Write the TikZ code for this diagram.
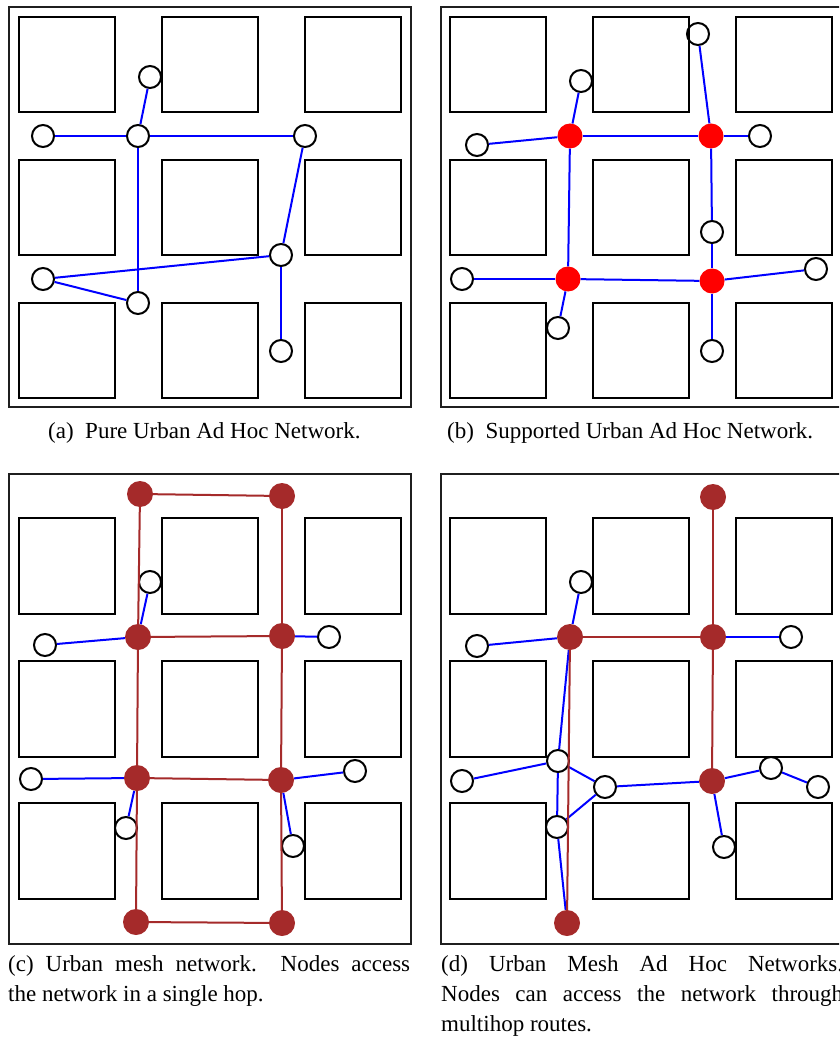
\documentclass[tikz,border=0pt]{standalone}
\usepackage{fontspec}
\setmainfont{Liberation Serif}
\definecolor{brownc}{RGB}{165,42,42}
\tikzset{
  frm/.style={draw=black!88, line width=2.5pt},
  blk/.style={draw=black, line width=2.5pt},
  wn/.style={circle, draw=black, line width=2pt, minimum size=22pt, inner sep=0pt},
  rn/.style={circle, fill=red, minimum size=25pt, inner sep=0pt},
  bn/.style={circle, fill=brownc, minimum size=26pt, inner sep=0pt},
  bl/.style={draw=blue, line width=2pt},
  br/.style={draw=brownc, line width=2pt},
  captext/.style={inner sep=0pt, anchor=base west, font=\fontsize{23}{30}\selectfont}
}
\begin{document}
\begin{tikzpicture}[x=1pt,y=-1pt]
\useasboundingbox (0,0) rectangle (839,1040);
\clip (0,0) rectangle (839,1040);
% ---------- frames ----------
\draw[frm] (9,7) rectangle (411,407);
\draw[frm] (441,7) rectangle (843,407);
\draw[frm] (9,474) rectangle (411,944);
\draw[frm] (441,474) rectangle (843,944);
% ---------- blocks ----------
\foreach \px in {0,431}{
  \foreach \cx in {19,162,305}{
    \foreach \ry in {17,160,303}{
      \draw[blk] (\px+\cx,\ry) rectangle ++(96,95);
    }
    \foreach \ry in {518,661,803}{
      \draw[blk] (\px+\cx,\ry) rectangle ++(96,96);
    }
  }
}
% ---------- (a) ----------
\node[wn] (a1) at (150,77) {};
\node[wn] (a2) at (43,136) {};
\node[wn] (a3) at (138,136) {};
\node[wn] (a4) at (305,136) {};
\node[wn] (a5) at (281,255) {};
\node[wn] (a6) at (43,279) {};
\node[wn] (a7) at (138,303) {};
\node[wn] (a8) at (281,351) {};
\draw[bl] (a1) -- (a3);
\draw[bl] (a2) -- (a3);
\draw[bl] (a3) -- (a4);
\draw[bl] (a3) -- (a7);
\draw[bl] (a4) -- (a5);
\draw[bl] (a5) -- (a6);
\draw[bl] (a6) -- (a7);
\draw[bl] (a5) -- (a8);
% ---------- (b) ----------
\node[rn] (r1) at (570,136) {};
\node[rn] (r2) at (711,136) {};
\node[rn] (r3) at (568,279) {};
\node[rn] (r4) at (712,281) {};
\node[wn] (b1) at (581,81) {};
\node[wn] (b2) at (698,34) {};
\node[wn] (b3) at (477,145) {};
\node[wn] (b4) at (760,136) {};
\node[wn] (b5) at (712,232) {};
\node[wn] (b6) at (462,279) {};
\node[wn] (b7) at (816,269) {};
\node[wn] (b8) at (558,328) {};
\node[wn] (b9) at (712,351) {};
\draw[bl] (r1) -- (b1);
\draw[bl] (r1) -- (b3);
\draw[bl] (r1) -- (r2);
\draw[bl] (r2) -- (b2);
\draw[bl] (r2) -- (b4);
\draw[bl] (r2) -- (b5);
\draw[bl] (b5) -- (r4);
\draw[bl] (r1) -- (r3);
\draw[bl] (r3) -- (b6);
\draw[bl] (r3) -- (r4);
\draw[bl] (r3) -- (b8);
\draw[bl] (r4) -- (b7);
\draw[bl] (r4) -- (b9);
% ---------- (c) ----------
\node[bn] (t1) at (140,494) {};
\node[bn] (t2) at (282,496) {};
\node[bn] (m1) at (138,637) {};
\node[bn] (m2) at (282,636) {};
\node[bn] (l1) at (137,778) {};
\node[bn] (l2) at (281,780) {};
\node[bn] (u1) at (136,922) {};
\node[bn] (u2) at (282,923) {};
\node[wn] (c1) at (150,582) {};
\node[wn] (c2) at (45,645) {};
\node[wn] (c3) at (329,637) {};
\node[wn] (c4) at (31,779) {};
\node[wn] (c5) at (355,771) {};
\node[wn] (c6) at (126,828) {};
\node[wn] (c7) at (293,846) {};
\draw[br] (t1) -- (t2);
\draw[br] (t1) -- (m1);
\draw[br] (t2) -- (m2);
\draw[br] (m1) -- (m2);
\draw[br] (m1) -- (l1);
\draw[br] (m2) -- (l2);
\draw[br] (l1) -- (l2);
\draw[br] (l1) -- (u1);
\draw[br] (l2) -- (u2);
\draw[br] (u1) -- (u2);
\draw[bl] (m1) -- (c1);
\draw[bl] (m1) -- (c2);
\draw[bl] (m2) -- (c3);
\draw[bl] (l1) -- (c4);
\draw[bl] (l2) -- (c5);
\draw[bl] (l1) -- (c6);
\draw[bl] (l2) -- (c7);
% ---------- (d) ----------
\node[bn] (e1) at (713,497) {};
\node[bn] (e2) at (570,637) {};
\node[bn] (e3) at (713,637) {};
\node[bn] (e4) at (712,781) {};
\node[bn] (e5) at (567,923) {};
\node[wn] (d1) at (581,582) {};
\node[wn] (d2) at (477,646) {};
\node[wn] (d3) at (791,637) {};
\node[wn] (d4) at (558,761) {};
\node[wn] (d5) at (462,781) {};
\node[wn] (d6) at (605,787) {};
\node[wn] (d7) at (557,827) {};
\node[wn] (d8) at (771,768) {};
\node[wn] (d9) at (818,787) {};
\node[wn] (d10) at (724,847) {};
\draw[bl] (d4) -- (e2);
\draw[bl] (e2) -- (d1);
\draw[bl] (e2) -- (d2);
\draw[bl] (e3) -- (d3);
\draw[bl] (d5) -- (d4);
\draw[bl] (d4) -- (d6);
\draw[bl] (d4) -- (d7);
\draw[bl] (d7) -- (d6);
\draw[bl] (d6) -- (e4);
\draw[bl] (e4) -- (d8);
\draw[bl] (d8) -- (d9);
\draw[bl] (e4) -- (d10);
\draw[bl] (d7) -- (e5);
\draw[br] (e1) -- (e3);
\draw[br] (e2) -- (e3);
\draw[br] (e3) -- (e4);
\draw[br] (e2) -- (e5);
% ---------- captions ----------
\node[captext] (capa) at (48,438) {(a)\enspace Pure Urban Ad Hoc Network.};
\node[captext] (capb) at (447,438) {(b)\enspace Supported Urban Ad Hoc Network.};
\node[captext] (capc) at (8,971) {\parbox[t]{402pt}{\makebox[402pt][s]{(c) Urban mesh network.\ \ Nodes access}\\the network in a single hop.}};
\node[captext] (capd) at (441,971) {\parbox[t]{402pt}{\makebox[402pt][s]{(d) Urban Mesh Ad Hoc Networks.}\\\makebox[402pt][s]{Nodes can access the network through}\\multihop routes.}};
\end{tikzpicture}
\end{document}
